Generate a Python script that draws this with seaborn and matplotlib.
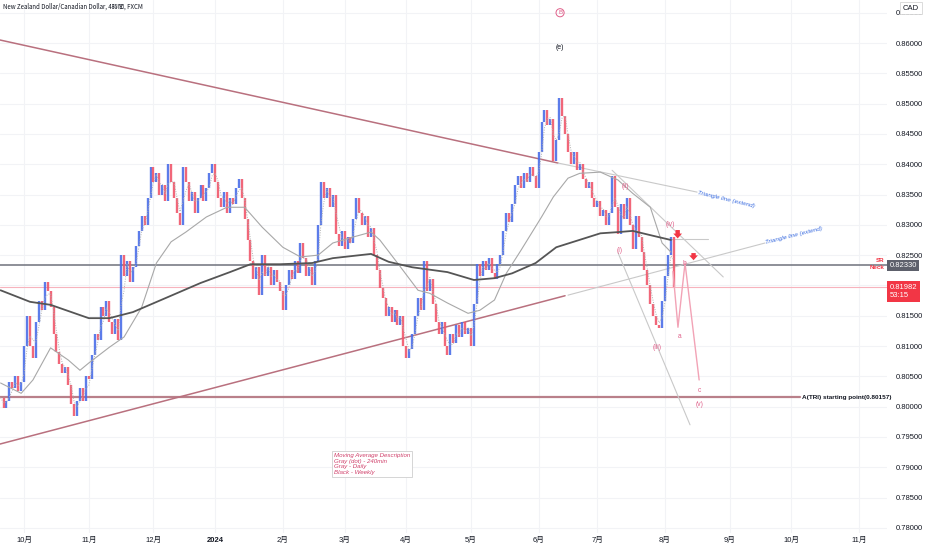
import numpy as np
import pandas as pd
import matplotlib
matplotlib.use("Agg")
import matplotlib.pyplot as plt
import seaborn as sns

# trading calendar (business days); bar index = position in this calendar
calendar = pd.bdate_range("2023-09-20", "2024-11-29")

# daily closes, bar 0 = 2023-09-20 ... last bar = 2024-08-05
closes = [
    0.8015, 0.7998, 0.8010, 0.8040, 0.8030, 0.8050, 0.8025, 0.8040, 0.8100, 0.8150,
    0.8100, 0.8080, 0.8140, 0.8175, 0.8160, 0.8205, 0.8190, 0.8165, 0.8120, 0.8090,
    0.8070, 0.8055, 0.8065, 0.8035, 0.8005, 0.7985, 0.8010, 0.8030, 0.8010, 0.8050,
    0.8045, 0.8085, 0.8120, 0.8110, 0.8165, 0.8150, 0.8175, 0.8140, 0.8120, 0.8145,
    0.8110, 0.8250, 0.8215, 0.8240, 0.8205, 0.8230, 0.8265, 0.8290, 0.8315, 0.8300,
    0.8345, 0.8395, 0.8370, 0.8385, 0.8350, 0.8365, 0.8340, 0.8400, 0.8370, 0.8345,
    0.8320, 0.8300, 0.8395, 0.8370, 0.8340, 0.8355, 0.8320, 0.8345, 0.8365, 0.8340,
    0.8360, 0.8385, 0.8400, 0.8370, 0.8345, 0.8330, 0.8355, 0.8320, 0.8345, 0.8335,
    0.8360, 0.8375, 0.8345, 0.8310, 0.8275, 0.8240, 0.8210, 0.8230, 0.8185, 0.8250,
    0.8215, 0.8230, 0.8200, 0.8225, 0.8205, 0.8190, 0.8160, 0.8200, 0.8225, 0.8210,
    0.8240, 0.8220, 0.8270, 0.8245, 0.8215, 0.8230, 0.8200, 0.8240, 0.8300, 0.8370,
    0.8345, 0.8360, 0.8330, 0.8350, 0.8285, 0.8265, 0.8290, 0.8260, 0.8280, 0.8270,
    0.8310, 0.8345, 0.8320, 0.8300, 0.8315, 0.8280, 0.8295, 0.8250, 0.8225, 0.8195,
    0.8180, 0.8150, 0.8165, 0.8140, 0.8160, 0.8135, 0.8150, 0.8100, 0.8080, 0.8095,
    0.8120, 0.8150, 0.8180, 0.8160, 0.8240, 0.8190, 0.8210, 0.8170, 0.8140, 0.8120,
    0.8140, 0.8100, 0.8085, 0.8120, 0.8105, 0.8135, 0.8115, 0.8140, 0.8120, 0.8130,
    0.8100, 0.8170, 0.8235, 0.8215, 0.8240, 0.8225, 0.8245, 0.8220, 0.8210, 0.8235,
    0.8250, 0.8290, 0.8320, 0.8305, 0.8335, 0.8365, 0.8380, 0.8360, 0.8385, 0.8370,
    0.8395, 0.8380, 0.8360, 0.8420, 0.8470, 0.8490, 0.8465, 0.8475, 0.8405, 0.8440,
    0.8510, 0.8480, 0.8450, 0.8420, 0.8400, 0.8420, 0.8390, 0.8400, 0.8375, 0.8360,
    0.8370, 0.8345, 0.8330, 0.8340, 0.8315, 0.8325, 0.8300, 0.8320, 0.8380, 0.8330,
    0.8285, 0.8335, 0.8310, 0.8345, 0.8300, 0.8260, 0.8315, 0.8280, 0.8255, 0.8225,
    0.8200, 0.8170, 0.8150, 0.8135, 0.8130, 0.8175, 0.8215, 0.8250, 0.8280, 0.81982,
]

# moving averages sampled along the chart (bar index, value)
weekly_ma_bar = [0, 10, 17, 30, 37, 45, 57, 68, 78, 85, 95, 106, 113, 126, 132, 140,
                 152, 161, 168, 174, 182, 189, 204, 210, 215, 221, 228]
weekly_ma_val = [0.8192, 0.8173, 0.8168, 0.8146, 0.8146, 0.8156, 0.8181, 0.8204, 0.8222,
                 0.8235, 0.8235, 0.8237, 0.8245, 0.8252, 0.8239, 0.8230, 0.8222, 0.8209,
                 0.8212, 0.8220, 0.8237, 0.8263, 0.8286, 0.8288, 0.8290, 0.8283, 0.8275]
daily_ma_bar = [0, 7, 11, 17, 23, 27, 30, 37, 42, 48, 53, 58, 63, 70, 77, 83, 89, 96,
                102, 108, 113, 120, 126, 129, 135, 142, 146, 152, 159, 163, 168, 172,
                177, 184, 188, 193, 197, 204, 210, 215, 221, 225, 228]
daily_ma_val = [0.8039, 0.8022, 0.8044, 0.8097, 0.8077, 0.8060, 0.8072, 0.8098, 0.8115,
                0.8164, 0.8237, 0.8272, 0.8288, 0.8313, 0.8329, 0.8329, 0.8296, 0.8263,
                0.8247, 0.8250, 0.8270, 0.8280, 0.8288, 0.8275, 0.8237, 0.8192, 0.8187,
                0.8171, 0.8154, 0.8159, 0.8176, 0.8220, 0.8258, 0.8313, 0.8346, 0.8377,
                0.8385, 0.8387, 0.8374, 0.8352, 0.8329, 0.8270, 0.8255]

# drawn lines (bar, price) pairs
upper_triangle = ([-0.2, 189.6], [0.8605, 0.8402])
upper_extend = ([189.6, 236.9], [0.8402, 0.8354])
lower_triangle = ([-0.2, 192.0], [0.79383, 0.8183])
lower_extend = ([193.0, 260.0], [0.8184, 0.8270])
channel_top = ([208.0, 245.8], [0.8390, 0.8214])
channel_bottom = ([210.0, 234.5], [0.8254, 0.7970])
short_level = ([227.7, 240.7], [0.8277, 0.8277])
projection = ([228.7, 230.4, 232.8, 237.6], [0.8223, 0.8131, 0.8237, 0.8044])

wave_labels = ["(i)", "(ii)", "(iii)", "(iv)", "a", "b", "c", "(v)"]
wave_bar = [210.4, 212.4, 223.3, 227.7, 230.8, 232.5, 237.6, 237.9]
wave_price = [0.8257, 0.8364, 0.8097, 0.8301, 0.8115, 0.8236, 0.8027, 0.8003]

sr_neck = 0.82330
last_price = 0.81982
tri_start = 0.80157

price_ticks = np.arange(0.780, 0.8651, 0.005)

UP = "#4a6ee8"
DOWN = "#f0566a"
PINK = "#e0608a"


def main():
    sns.set_theme(style="white")
    plt.rcParams["font.family"] = ["Liberation Sans", "Noto Sans CJK JP"]

    fig = plt.figure(figsize=(9.32, 5.5), dpi=100)
    ax = fig.add_axes([0, 17 / 550, 887 / 932, 533 / 550])

    df = pd.DataFrame({"bar": np.arange(len(closes)), "close": closes})
    df["open"] = df["close"].shift(1).fillna(df["close"])
    df["ma_short"] = df["close"].rolling(3, min_periods=1).mean()
    up = df["close"] >= df["open"]

    # grid
    cal = pd.Series(calendar)
    firsts = cal.groupby(cal.dt.to_period("M")).first()
    firsts = firsts[(firsts >= "2023-10-01") & (firsts <= "2024-11-30")]
    month_pos = calendar.get_indexer(pd.DatetimeIndex(firsts.values))
    month_labels = ["2024" if d.month == 1 else f"{d.month}月" for d in firsts]
    for m in month_pos:
        ax.axvline(m, color="#f2f3f6", lw=0.8, zorder=0)
    for t in price_ticks:
        ax.axhline(t, color="#f2f3f6", lw=0.8, zorder=0)

    # candles (open = previous close)
    ax.vlines(df.bar[up], df.open[up], df.close[up], color=UP, lw=1.7, alpha=0.9, zorder=3)
    ax.vlines(df.bar[~up], df.open[~up], df.close[~up], color=DOWN, lw=1.7, alpha=0.9, zorder=3)

    # moving averages
    ax.plot(df.bar, df.ma_short, color="#b0b0b0", lw=0.7, ls=(0, (1, 1.5)), zorder=4)
    sns.lineplot(x=daily_ma_bar, y=daily_ma_val, ax=ax, color="#a8a8a8", lw=0.8, zorder=4)
    sns.lineplot(x=weekly_ma_bar, y=weekly_ma_val, ax=ax, color="#555555", lw=1.3, zorder=4)

    # horizontal levels
    ax.axhline(sr_neck, color="#6f727c", lw=1.1, zorder=2)
    ax.axhline(last_price, color="#f7b3bd", lw=0.8, zorder=2)
    ax.plot([-0.2, 272], [tri_start, tri_start], color="#b9808a", lw=1.6, zorder=2)
    ax.text(272.7, tri_start, "A(TRI) starting point(0.80157)", fontsize=4.6,
            fontweight="bold", color="#131722", va="center", ha="left", zorder=6)

    # triangle and channel lines
    ax.plot(*upper_triangle, color="#b9707e", lw=1.1, zorder=2)
    ax.plot(*lower_triangle, color="#b9707e", lw=1.1, zorder=2)
    for ln in (upper_extend, lower_extend, channel_top, channel_bottom, short_level):
        ax.plot(*ln, color="#c9c9c9", lw=0.8, zorder=2)
    ax.text(upper_extend[0][1] + 0.3, upper_extend[1][1], "Triangle line (extend)",
            fontsize=4.6, style="italic", color="#3d6ee0", rotation=-13.5,
            rotation_mode="anchor", va="center", ha="left", zorder=6)
    ax.text(lower_extend[0][1] + 0.3, lower_extend[1][1], "Triangle line (extend)",
            fontsize=4.6, style="italic", color="#3d6ee0", rotation=14,
            rotation_mode="anchor", va="center", ha="left", zorder=6)

    # projection path and wave labels
    ax.plot(*projection, color="#f2a3b6", lw=1.0, zorder=5)
    for lbl, xb, yp in zip(wave_labels, wave_bar, wave_price):
        ax.text(xb, yp, lbl, fontsize=4.8, color=PINK, ha="center", va="center", zorder=6)
    ax.text(190.3, 0.8593, "(e)", fontsize=5, color="#131722", ha="center", va="center")
    ax.text(190.3, 0.8650, "B", fontsize=4.5, color=PINK, ha="center", va="center",
            bbox=dict(boxstyle="circle,pad=0.25", fc="none", ec=PINK, lw=0.7))

    # red arrows
    for xb, y0, y1 in [(230.3, 0.8296, 0.8273), (235.7, 0.8258, 0.8237)]:
        ax.annotate("", xy=(xb, y1), xytext=(xb, y0), zorder=7,
                    arrowprops=dict(arrowstyle="simple,head_length=0.5,head_width=0.9,tail_width=0.45",
                                    color="#f23645", mutation_scale=7, lw=0))

    # MA description box
    ax.text(113.4, 0.79240,
            "Moving Average Description\nGray (dot) - 240min\nGray - Daily\nBlack - Weekly",
            fontsize=4.4, style="italic", color="#d0406a", va="top", ha="left",
            linespacing=1.2, zorder=6,
            bbox=dict(boxstyle="square,pad=0.3", fc="white", ec="#cfcfcf", lw=0.6))

    # axes setup
    ax.set_xlim(-0.2, 301.5)
    ax.set_ylim(0.77915, 0.8671)
    ax.set_xticks(month_pos)
    ax.set_xticklabels(month_labels)
    for t in ax.get_xticklabels():
        if t.get_text() == "2024":
            t.set_fontweight("bold")
    ax.yaxis.tick_right()
    ax.set_yticks(price_ticks)
    # the 0.82000 label sits under the last-price box in the reference
    ax.set_yticklabels(["" if abs(t - 0.82) < 1e-6 else f"{t:.5f}" for t in price_ticks])
    ax.tick_params(axis="y", length=0, pad=6, labelsize=5.5, labelcolor="#131722")
    ax.tick_params(axis="x", length=0, pad=3, labelsize=5.5, labelcolor="#131722")
    ax.set_xlabel("")
    ax.set_ylabel("")
    for s in ax.spines.values():
        s.set_visible(False)

    # price boxes on the axis
    tr = ax.get_yaxis_transform()
    ax.text(1.003, sr_neck, "0.82330", transform=tr, fontsize=5.5, color="white",
            va="center", ha="left", clip_on=False,
            bbox=dict(boxstyle="square,pad=0.3", fc="#5d606b", ec="none"))
    ax.text(1.003, 0.8190, "0.81982\n53:15", transform=tr, fontsize=5.5, color="white",
            va="center", ha="left", clip_on=False, linespacing=1.2,
            bbox=dict(boxstyle="square,pad=0.4", fc="#f23645", ec="none"))
    ax.text(0.997, 0.8241, "SR", transform=tr, fontsize=4.5, fontweight="bold",
            color="#f23645", va="center", ha="right")
    ax.text(0.997, 0.8229, "Neck", transform=tr, fontsize=4.5, fontweight="bold",
            color="#f23645", va="center", ha="right")

    fig.text(3 / 932, 1 - 7 / 550, "New Zealand Dollar/Canadian Dollar, 4時間, FXCM",
             fontsize=4.4, color="#131722", va="center", ha="left",
             family=["Noto Sans CJK JP", "DejaVu Sans"])
    fig.text(911 / 932, 1 - 8 / 550, "CAD", fontsize=5.5, color="#131722",
             va="center", ha="center",
             bbox=dict(boxstyle="square,pad=0.35", fc="white", ec="#d6d6d6", lw=0.6))

    fig.savefig("out.png", dpi=100, facecolor="white")


if __name__ == "__main__":
    main()
